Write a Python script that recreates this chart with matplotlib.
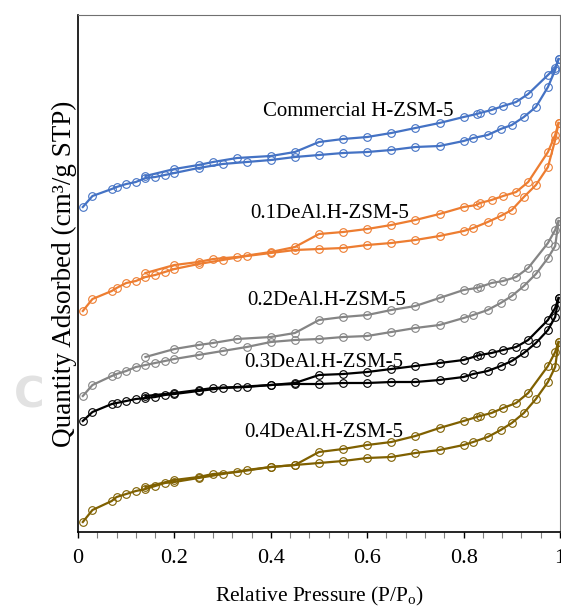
from __future__ import annotations

import matplotlib

matplotlib.use("Agg")
import matplotlib.pyplot as plt
from matplotlib.ticker import MultipleLocator, NullLocator


OUT_PATH = "out.png"

# relative pressure of the adsorption and desorption branches
ADS_P = [0.01, 0.03, 0.07, 0.08, 0.10, 0.12, 0.14, 0.16, 0.18, 0.20, 0.25,
         0.30, 0.35, 0.40, 0.45, 0.50, 0.55, 0.60, 0.65, 0.70, 0.75, 0.80,
         0.82, 0.85, 0.877, 0.90, 0.925, 0.95, 0.975, 0.99, 0.997]
DES_P = [0.997, 0.99, 0.975, 0.934, 0.909, 0.882, 0.858, 0.834, 0.827, 0.80,
         0.75, 0.70, 0.65, 0.60, 0.55, 0.50, 0.45, 0.40, 0.33, 0.28, 0.25,
         0.20, 0.14]

# quantity adsorbed (curves are stacked with offsets, arbitrary units)
COMM_ADS = [325, 336, 343, 345, 348, 350, 354, 355, 357, 359, 364, 368, 370,
            372, 375, 377, 379, 380, 382, 385, 386, 391, 394, 397, 403, 407,
            415, 425, 445, 462, 473]
COMM_DES = [473, 464, 457, 438, 430, 426, 422, 419, 418, 415, 409, 404, 399,
            395, 393, 390, 380, 376, 374, 370, 367, 363, 356]

D01_ADS = [221, 233, 241, 244, 249, 251, 255, 257, 260, 263, 268, 272, 276,
           279, 282, 283, 284, 287, 289, 292, 296, 301, 304, 310, 316, 322,
           335, 347, 365, 392, 409]
D01_DES = [409, 397, 380, 350, 340, 336, 332, 329, 327, 325, 318, 312, 307,
           303, 300, 298, 285, 280, 275, 273, 270, 267, 259]

D02_ADS = [136, 147, 156, 158, 161, 165, 167, 169, 171, 173, 177, 181, 185,
           190, 192, 193, 195, 196, 200, 204, 207, 214, 217, 222, 229, 236,
           246, 258, 274, 286, 311]
D02_DES = [311, 302, 289, 264, 255, 251, 249, 245, 244, 242, 234, 226, 222,
           217, 215, 212, 199, 195, 193, 189, 187, 183, 175]

D03_ADS = [111, 120, 128, 129, 131, 133, 134, 135, 137, 138, 141, 144, 145,
           147, 148, 148, 149, 149, 150, 150, 152, 155, 158, 161, 166, 171,
           179, 189, 202, 215, 234]
D03_DES = [234, 224, 212, 192, 185, 182, 179, 177, 176, 172, 169, 166, 163,
           160, 158, 157, 149, 147, 145, 144, 142, 139, 136]

D04_ADS = [10, 22, 31, 35, 38, 41, 43, 46, 49, 50, 54, 58, 62, 65, 67, 69,
           71, 74, 75, 79, 82, 87, 90, 95, 102, 109, 119, 133, 150, 165, 190]
D04_DES = [190, 180, 166, 139, 129, 124, 119, 116, 115, 111, 104, 96, 90,
           87, 83, 80, 67, 65, 60, 58, 55, 52, 45]

SAMPLES = [
    "Commercial H-ZSM-5",
    "0.1DeAl.H-ZSM-5",
    "0.2DeAl.H-ZSM-5",
    "0.3DeAl.H-ZSM-5",
    "0.4DeAl.H-ZSM-5",
]
COLORS = ["#4472c4", "#ed7d31", "#858585", "#000000", "#7f6000"]
LABEL_POS = [(0.384, 416), (0.357, 314), (0.351, 227), (0.344, 165), (0.344, 95)]

X_TICKS = [0, 0.2, 0.4, 0.6, 0.8, 1.0]
X_TICK_LABELS = ["0", "0.2", "0.4", "0.6", "0.8", "1"]


def main() -> None:
    plt.rcParams["font.family"] = ["Liberation Serif", "DejaVu Serif"]
    plt.rcParams["mathtext.fontset"] = "custom"
    plt.rcParams["mathtext.rm"] = "Liberation Serif"

    fig = plt.figure(figsize=(5.61, 6.12), dpi=100)
    ax = fig.add_axes([78 / 561, 80 / 612, 482 / 561, 517 / 612])

    branches = [
        (COMM_ADS, COMM_DES),
        (D01_ADS, D01_DES),
        (D02_ADS, D02_DES),
        (D03_ADS, D03_DES),
        (D04_ADS, D04_DES),
    ]
    style = dict(lw=1.6, marker="o", ms=5.5, mfc="none", mew=0.8)
    for (ads, des), color, name, (lx, ly) in zip(branches, COLORS, SAMPLES, LABEL_POS):
        ax.plot(ADS_P, ads, color=color, **style)
        ax.plot(DES_P, des, color=color, **style)
        ax.text(lx, ly, name, fontsize=15, va="baseline", ha="left")

    ax.set_xlim(0, 1)
    ax.set_ylim(0, 517)
    ax.set_xticks(X_TICKS, X_TICK_LABELS)
    ax.xaxis.set_minor_locator(MultipleLocator(0.04))
    ax.yaxis.set_major_locator(NullLocator())
    ax.tick_params(axis="x", which="major", direction="out", length=4.5,
                   width=1.0, color="black", labelsize=16, pad=8)
    ax.tick_params(axis="x", which="minor", direction="out", length=4.5,
                   width=0.8, color="#808080")

    for side in ("left", "bottom"):
        ax.spines[side].set_linewidth(1.2)
        ax.spines[side].set_color("black")
    for side in ("top", "right"):
        ax.spines[side].set_linewidth(0.8)
        ax.spines[side].set_color("#707070")

    ax.set_xlabel(r"Relative Pressure (P/P$_\mathregular{o}$)", fontsize=15.5, labelpad=12)
    ax.set_ylabel("Quantity Adsorbed (cm³/g STP)", fontsize=19.5, labelpad=1)

    # faint panel letter left of the axis
    fig.text(29 / 561, 1 - 396 / 612, "C", family="DejaVu Sans", fontsize=30,
             fontweight="bold", color="#e2e2e2", ha="center", va="center",
             zorder=0)

    fig.savefig(OUT_PATH, dpi=100)
    plt.close(fig)


if __name__ == "__main__":
    main()
